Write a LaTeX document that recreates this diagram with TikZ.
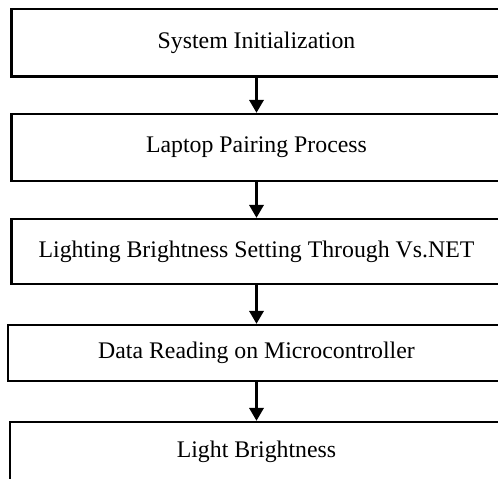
\documentclass[tikz,border=0pt]{standalone}
\usepackage{fontspec}
\setmainfont{Liberation Serif}
\usetikzlibrary{arrows.meta}
\begin{document}
\begin{tikzpicture}[x=1pt,y=-1pt,
  stepbox/.style={draw=black,line width=2.2pt,fill=white,inner sep=0pt,
    font=\fontsize{23.8}{28}\selectfont,anchor=center},
  flow/.style={line width=3.5pt,-{Triangle[length=13pt,width=14pt]}}]
  \useasboundingbox (0,0) rectangle (498,479);
  \node[stepbox,minimum width=490pt,minimum height=67.5pt] (s1) at (256.5,42.75) {System Initialization};
  \node[stepbox,minimum width=490pt,minimum height=67pt] (s2) at (256.5,147.5) {Laptop Pairing Process};
  \node[stepbox,minimum width=490pt,minimum height=65pt] (s3) at (256.5,251.5) {Lighting Brightness Setting Through Vs.NET};
  \node[stepbox,minimum width=497pt,minimum height=56pt] (s4) at (256.5,353) {Data Reading on Microcontroller};
  \node[stepbox,minimum width=493pt,minimum height=60pt] (s5) at (256.5,452) {Light Brightness};
  \draw[flow] (s1.south) -- (s2.north);
  \draw[flow] (s2.south) -- (s3.north);
  \draw[flow] (s3.south) -- (s4.north);
  \draw[flow] (s4.south) -- (s5.north);
\end{tikzpicture}
\end{document}
